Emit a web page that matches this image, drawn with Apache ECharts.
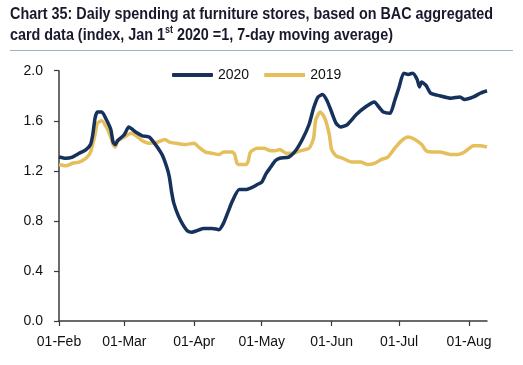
<!DOCTYPE html>
<html>
<head>
<meta charset="utf-8">
<script src="https://cdn.jsdelivr.net/npm/echarts@6/dist/echarts.min.js"></script>
<style>
html,body{margin:0;padding:0;background:#fff;}
#c{width:523px;height:365px;}
</style>
</head>
<body>
<div id="c"></div>
<script>
const seriesNames = ['2020', '2019'];
const yTicks = [0.0, 0.4, 0.8, 1.2, 1.6, 2.0];
const titleLine1 = 'Chart 35: Daily spending at furniture stores, based on BAC aggregated';
const titleLine2a = 'card data (index, Jan 1';
const titleSup = 'st';
const titleLine2b = ' 2020 =1, 7-day moving average)';

const dates2020 = ['2020-02-01','2020-02-04','2020-02-07','2020-02-10','2020-02-13','2020-02-15','2020-02-16','2020-02-17','2020-02-18','2020-02-20','2020-02-22','2020-02-24','2020-02-25','2020-02-26','2020-02-27','2020-03-01','2020-03-03','2020-03-06','2020-03-09','2020-03-12','2020-03-14','2020-03-16','2020-03-18','2020-03-20','2020-03-21','2020-03-22','2020-03-23','2020-03-25','2020-03-27','2020-03-29','2020-03-31','2020-04-02','2020-04-05','2020-04-09','2020-04-12','2020-04-14','2020-04-16','2020-04-18','2020-04-21','2020-04-24','2020-04-27','2020-04-29','2020-05-01','2020-05-03','2020-05-05','2020-05-07','2020-05-09','2020-05-13','2020-05-16','2020-05-19','2020-05-22','2020-05-24','2020-05-26','2020-05-28','2020-05-30','2020-06-01','2020-06-03','2020-06-05','2020-06-08','2020-06-12','2020-06-16','2020-06-20','2020-06-22','2020-06-24','2020-06-27','2020-06-29','2020-07-01','2020-07-03','2020-07-05','2020-07-07','2020-07-09','2020-07-10','2020-07-11','2020-07-13','2020-07-15','2020-07-19','2020-07-24','2020-07-28','2020-07-30','2020-08-03','2020-08-06','2020-08-09'];
const values2020 = [1.31,1.30,1.31,1.34,1.37,1.41,1.49,1.62,1.67,1.67,1.61,1.53,1.43,1.41,1.44,1.49,1.55,1.51,1.48,1.47,1.43,1.38,1.32,1.22,1.15,1.03,0.94,0.84,0.77,0.72,0.71,0.72,0.74,0.74,0.73,0.78,0.87,0.96,1.05,1.05,1.07,1.09,1.11,1.18,1.23,1.28,1.30,1.31,1.36,1.45,1.57,1.70,1.79,1.81,1.76,1.67,1.58,1.55,1.57,1.65,1.71,1.75,1.71,1.67,1.66,1.76,1.87,1.98,1.97,1.98,1.93,1.87,1.91,1.88,1.82,1.80,1.78,1.79,1.77,1.79,1.82,1.84];

const dates2019 = ['2020-02-01','2020-02-04','2020-02-07','2020-02-10','2020-02-13','2020-02-15','2020-02-17','2020-02-18','2020-02-20','2020-02-22','2020-02-24','2020-02-25','2020-02-26','2020-02-27','2020-03-01','2020-03-04','2020-03-07','2020-03-09','2020-03-12','2020-03-16','2020-03-19','2020-03-21','2020-03-24','2020-03-28','2020-04-01','2020-04-03','2020-04-06','2020-04-09','2020-04-12','2020-04-14','2020-04-18','2020-04-19','2020-04-20','2020-04-21','2020-04-24','2020-04-25','2020-04-26','2020-04-29','2020-05-02','2020-05-05','2020-05-07','2020-05-09','2020-05-12','2020-05-15','2020-05-18','2020-05-22','2020-05-24','2020-05-25','2020-05-27','2020-05-29','2020-05-31','2020-06-01','2020-06-03','2020-06-06','2020-06-10','2020-06-14','2020-06-17','2020-06-20','2020-06-23','2020-06-26','2020-06-29','2020-07-02','2020-07-05','2020-07-08','2020-07-11','2020-07-13','2020-07-16','2020-07-19','2020-07-24','2020-07-27','2020-07-30','2020-08-03','2020-08-06','2020-08-09'];
const values2019 = [1.25,1.24,1.26,1.27,1.30,1.35,1.49,1.58,1.60,1.55,1.47,1.41,1.39,1.44,1.47,1.50,1.47,1.44,1.42,1.43,1.45,1.43,1.42,1.41,1.42,1.39,1.35,1.34,1.33,1.35,1.35,1.33,1.26,1.25,1.25,1.28,1.35,1.38,1.38,1.36,1.36,1.37,1.34,1.34,1.36,1.38,1.46,1.61,1.67,1.62,1.49,1.37,1.32,1.30,1.27,1.27,1.25,1.26,1.29,1.31,1.38,1.44,1.47,1.45,1.41,1.36,1.35,1.35,1.33,1.33,1.35,1.40,1.40,1.39];

const xMin = '2020-02-01';
const xMax = '2020-08-09';

const chart = echarts.init(document.getElementById('c'), null, {renderer: 'canvas'});
const FONT = "'Liberation Sans', Arial, sans-serif";
const TFONT = "'Liberation Sans', Arial, sans-serif";
const titleColor = '#181a2c';

// condense the bold title to the reference's narrow face
const mctx = document.createElement('canvas').getContext('2d');
mctx.font = "bold 16px 'Liberation Sans', Arial, sans-serif";
const titleScale = 483 / mctx.measureText(titleLine1).width;

const richTitle = {
  b: {fontFamily: TFONT, fontWeight: 'bold', fontSize: 16, fill: titleColor, lineHeight: 21},
  s: {fontFamily: TFONT, fontWeight: 'bold', fontSize: 10, fill: titleColor, lineHeight: 21, verticalAlign: 'top', padding: [0, 0, 6, 0]}
};

chart.setOption({
  animation: false,
  backgroundColor: '#ffffff',
  graphic: [
    {
      type: 'text', x: 10, y: 4, scaleX: titleScale,
      style: {text: '{b|' + titleLine1 + '}', rich: richTitle, verticalAlign: 'top'}
    },
    {
      type: 'text', x: 10, y: 25, scaleX: titleScale,
      style: {text: '{b|' + titleLine2a + '}{s|' + titleSup + '}{b|' + titleLine2b + '}', rich: richTitle, verticalAlign: 'top'}
    },
    {
      type: 'line', shape: {x1: 10, y1: 50.5, x2: 513, y2: 50.5},
      style: {stroke: '#9fb0c9', lineWidth: 1}
    }
  ],
  legend: {
    data: seriesNames,
    left: 167, top: 63,
    icon: 'roundRect', itemWidth: 41, itemHeight: 4, itemGap: 15,
    textStyle: {fontFamily: FONT, fontSize: 14, color: '#111'}
  },
  grid: {left: 59, right: 36, top: 70.7, bottom: 44, containLabel: false},
  xAxis: {
    type: 'time', min: xMin, max: xMax,
    minInterval: 28 * 86400000, maxInterval: 31 * 86400000,
    axisLine: {lineStyle: {color: '#3a3a3a', width: 1.5}},
    axisTick: {show: true, length: 5, lineStyle: {color: '#3a3a3a', width: 1.2}},
    axisLabel: {formatter: '{dd}-{MMM}', fontFamily: FONT, fontSize: 14, color: '#111', margin: 14, hideOverlap: false, showMinLabel: true, showMaxLabel: false},
    splitLine: {show: false}
  },
  yAxis: {
    type: 'value', min: yTicks[0], max: yTicks[yTicks.length - 1], interval: 0.4,
    axisLine: {show: true, lineStyle: {color: '#3a3a3a', width: 1.5}},
    axisTick: {show: true, length: 5, lineStyle: {color: '#3a3a3a', width: 1.2}},
    axisLabel: {formatter: v => v.toFixed(1), fontFamily: FONT, fontSize: 14, color: '#111', margin: 16},
    splitLine: {show: false}
  },
  series: [
    {
      name: '2020', type: 'line', z: 3, showSymbol: false, smooth: 0.2,
      data: dates2020.map((d, i) => [d, values2020[i]]),
      lineStyle: {color: '#15315c', width: 3.5},
      itemStyle: {color: '#15315c'}
    },
    {
      name: '2019', type: 'line', z: 2, showSymbol: false, smooth: 0.2,
      data: dates2019.map((d, i) => [d, values2019[i]]),
      lineStyle: {color: '#e4bf5c', width: 3.5},
      itemStyle: {color: '#e4bf5c'}
    }
  ]
});
</script>
</body>
</html>
